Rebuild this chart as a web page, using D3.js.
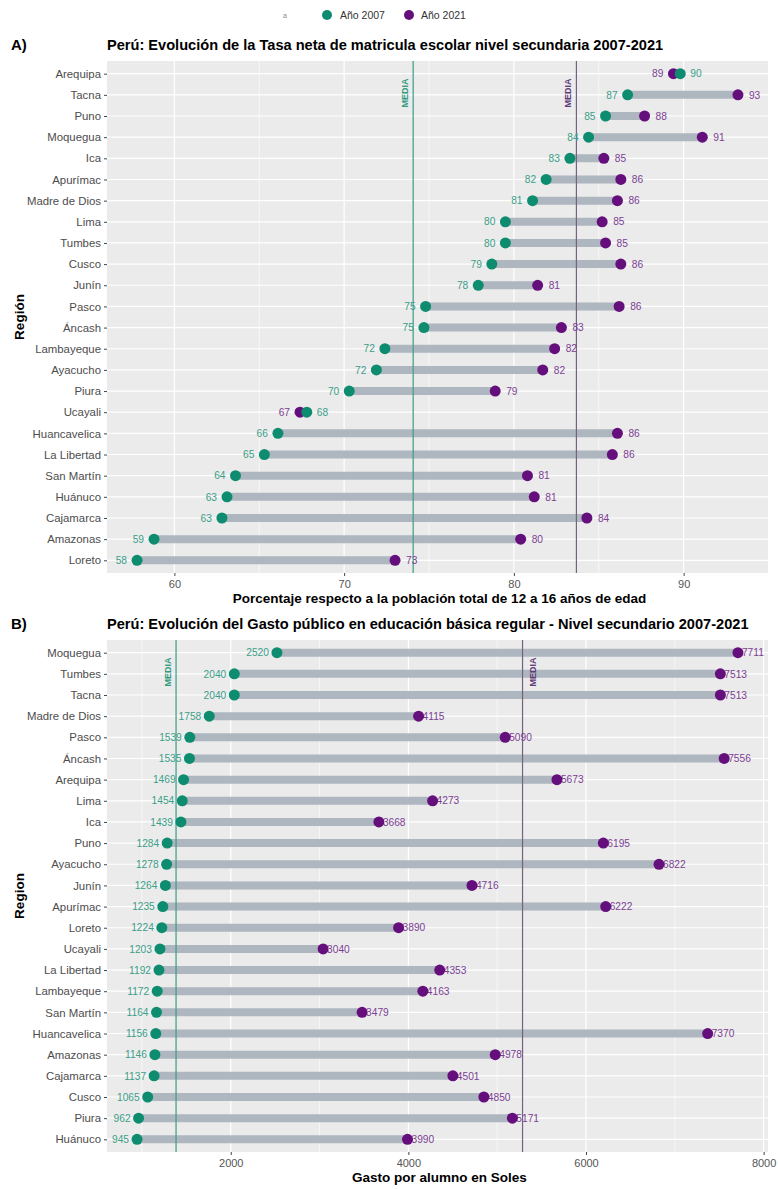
<!DOCTYPE html>
<html>
<head>
<meta charset="utf-8">
<script src="https://cdn.jsdelivr.net/npm/d3@7"></script>
<style>
	body { margin: 0; background: #fff; }
	svg { font-family: 'Liberation Sans', Arial, sans-serif; display: block; }
</style>
</head>
<body>
<svg id="chart" width="778" height="1189"></svg>
<script>
// Panel A: tasa neta de matricula secundaria (%)
const regionsA = ['Arequipa', 'Tacna', 'Puno', 'Moquegua', 'Ica', 'Apurímac', 'Madre de Dios', 'Lima', 'Tumbes', 'Cusco', 'Junín', 'Pasco', 'Áncash', 'Lambayeque', 'Ayacucho', 'Piura', 'Ucayali', 'Huancavelica', 'La Libertad', 'San Martín', 'Huánuco', 'Cajamarca', 'Amazonas', 'Loreto']
const tasa2007 = [89.8, 86.7, 85.4, 84.4, 83.3, 81.9, 81.1, 79.5, 79.5, 78.7, 77.9, 74.8, 74.7, 72.4, 71.9, 70.3, 67.8, 66.1, 65.3, 63.6, 63.1, 62.8, 58.8, 57.8]
const tasa2021 = [89.4, 93.2, 87.7, 91.1, 85.3, 86.3, 86.1, 85.2, 85.4, 86.3, 81.4, 86.2, 82.8, 82.4, 81.7, 78.9, 67.4, 86.1, 85.8, 80.8, 81.2, 84.3, 80.4, 73.0]
const ticksA = [60, 70, 80, 90]

// Panel B: gasto publico por alumno (Soles)
const regionsB = ['Moquegua', 'Tumbes', 'Tacna', 'Madre de Dios', 'Pasco', 'Áncash', 'Arequipa', 'Lima', 'Ica', 'Puno', 'Ayacucho', 'Junín', 'Apurímac', 'Loreto', 'Ucayali', 'La Libertad', 'Lambayeque', 'San Martín', 'Huancavelica', 'Amazonas', 'Cajamarca', 'Cusco', 'Piura', 'Huánuco']
const gasto2007 = [2520, 2040, 2040, 1758, 1539, 1535, 1469, 1454, 1439, 1284, 1278, 1264, 1235, 1224, 1203, 1192, 1172, 1164, 1156, 1146, 1137, 1065, 962, 945]
const gasto2021 = [7711, 7513, 7513, 4115, 5090, 7556, 5673, 4273, 3668, 6195, 6822, 4716, 6222, 3890, 3040, 4353, 4163, 3479, 7370, 4978, 4501, 4850, 5171, 3990]
const ticksB = [2000, 4000, 6000, 8000]

const green = '#0e8c70'
const purple = '#650f7d'
const greenText = '#3a9e88'
const purpleText = '#7b3e93'
const segColor = '#aeb6bf'

const svg = d3.select('#chart')

// legend
const legend = svg.append('g').attr('transform', 'translate(0, 15)')
legend.append('text').attr('x', 283).attr('y', 3).attr('font-size', 7).attr('fill', '#888').text('a')
legend.append('circle').attr('cx', 327).attr('cy', 0).attr('r', 5).attr('fill', green)
legend.append('text').attr('x', 340).attr('y', 4).attr('font-size', 10.5).attr('fill', '#333').text('Año 2007')
legend.append('circle').attr('cx', 409).attr('cy', 0).attr('r', 5).attr('fill', purple)
legend.append('text').attr('x', 421).attr('y', 4).attr('font-size', 10.5).attr('fill', '#333').text('Año 2021')

function drawPanel(opts) {
	const { top, bottom, left, right, regions, v1, v2, ticks, minor, tag, title, xTitle, yTitle, mode } = opts

	const all = v1.concat(v2)
	const ext = d3.extent(all)
	const pad = (ext[1] - ext[0]) * 0.05
	const x = d3.scaleLinear().domain([ext[0] - pad, ext[1] + pad]).range([left, right])
	const y = d3.scalePoint().domain(regions).range([top, bottom]).padding(0.6)

	const g = svg.append('g')

	// background + grid
	g.append('rect').attr('x', left).attr('y', top).attr('width', right - left).attr('height', bottom - top).attr('fill', '#ebebeb')
	g.selectAll('.minor').data(minor.filter(d => x(d) >= left && x(d) <= right)).enter().append('line')
		.attr('x1', d => x(d)).attr('x2', d => x(d)).attr('y1', top).attr('y2', bottom)
		.attr('stroke', '#fff').attr('stroke-width', 0.6)
	g.selectAll('.major').data(ticks).enter().append('line')
		.attr('x1', d => x(d)).attr('x2', d => x(d)).attr('y1', top).attr('y2', bottom)
		.attr('stroke', '#fff').attr('stroke-width', 1.2)
	g.selectAll('.hgrid').data(regions).enter().append('line')
		.attr('x1', left).attr('x2', right).attr('y1', d => y(d)).attr('y2', d => y(d))
		.attr('stroke', '#fff').attr('stroke-width', 1.2)

	// segments
	g.selectAll('.seg').data(regions).enter().append('line')
		.attr('x1', (d, i) => x(v1[i])).attr('x2', (d, i) => x(v2[i]))
		.attr('y1', d => y(d)).attr('y2', d => y(d))
		.attr('stroke', segColor).attr('stroke-width', 8)

	// mean lines
	const m1 = d3.mean(v1)
	const m2 = d3.mean(v2)
	g.append('line').attr('x1', x(m1)).attr('x2', x(m1)).attr('y1', top).attr('y2', bottom)
		.attr('stroke', '#3c9c86').attr('stroke-width', 1.2)
	g.append('line').attr('x1', x(m2)).attr('x2', x(m2)).attr('y1', top).attr('y2', bottom)
		.attr('stroke', '#74637f').attr('stroke-width', 1.2)
	const mediaY = top + 32
	g.append('text').attr('transform', `translate(${x(m1) - 5}, ${mediaY}) rotate(-90)`)
		.attr('text-anchor', 'middle').attr('font-size', 9).attr('font-weight', 'bold')
		.attr('fill', '#2f9a80').text('MEDIA')
	const purpleMediaX = mode === 'A' ? x(m2) - 5 : x(m2) + 13
	g.append('text').attr('transform', `translate(${purpleMediaX}, ${mediaY}) rotate(-90)`)
		.attr('text-anchor', 'middle').attr('font-size', 9).attr('font-weight', 'bold')
		.attr('fill', '#5e3a78').text('MEDIA')

	// value labels
	const labels = g.append('g').attr('font-size', 10.2)
	regions.forEach((r, i) => {
		const a = v1[i]
		const b = v2[i]
		const fmt = v => Math.round(v)
		if (mode === 'A') {
			const aLeft = a <= b
			labels.append('text')
				.attr('x', aLeft ? x(a) - 10 : x(a) + 10)
				.attr('y', y(r) + 3.7)
				.attr('text-anchor', aLeft ? 'end' : 'start')
				.attr('fill', greenText).text(fmt(a))
			labels.append('text')
				.attr('x', aLeft ? x(b) + 11 : x(b) - 10)
				.attr('y', y(r) + 3.7)
				.attr('text-anchor', aLeft ? 'start' : 'end')
				.attr('fill', purpleText).text(fmt(b))
		} else {
			labels.append('text')
				.attr('x', x(a) - 8).attr('y', y(r) + 3.7)
				.attr('text-anchor', 'end')
				.attr('fill', greenText).text(fmt(a))
			labels.append('text')
				.attr('x', x(b) + 4).attr('y', y(r) + 3.7)
				.attr('text-anchor', 'start')
				.attr('fill', purpleText).text(fmt(b))
		}
	})

	// dots
	g.selectAll('.d2').data(regions).enter().append('circle')
		.attr('cx', (d, i) => x(v2[i])).attr('cy', d => y(d)).attr('r', 5.5).attr('fill', purple)
	g.selectAll('.d1').data(regions).enter().append('circle')
		.attr('cx', (d, i) => x(v1[i])).attr('cy', d => y(d)).attr('r', 5.5).attr('fill', green)

	// axes
	const xAxisG = g.append('g').attr('transform', `translate(0, ${bottom})`)
		.call(d3.axisBottom(x).tickValues(ticks).tickSize(3).tickPadding(4).tickFormat(d3.format('d')))
	xAxisG.select('.domain').remove()
	xAxisG.selectAll('line').attr('stroke', '#444')
	xAxisG.selectAll('text').attr('font-size', 11).attr('fill', '#555').attr('font-family', null)

	const yAxisG = g.append('g').attr('transform', `translate(${left}, 0)`)
		.call(d3.axisLeft(y).tickSize(3).tickPadding(3))
	yAxisG.select('.domain').remove()
	yAxisG.selectAll('line').attr('stroke', '#444')
	yAxisG.selectAll('text').attr('font-size', 11.4).attr('fill', '#4d4d4d').attr('font-family', null)

	// titles
	svg.append('text').attr('x', 11).attr('y', top - 11).attr('font-size', 15).attr('font-weight', 'bold').text(tag)
	svg.append('text').attr('x', left).attr('y', top - 11).attr('font-size', 14.6).attr('font-weight', 'bold').text(title)
	svg.append('text').attr('x', (left + right) / 2 + 2).attr('y', bottom + 30).attr('text-anchor', 'middle')
		.attr('font-size', 13.5).attr('font-weight', 'bold').text(xTitle)
	svg.append('text').attr('transform', `translate(24, ${(top + bottom) / 2}) rotate(-90)`)
		.attr('text-anchor', 'middle').attr('font-size', 13.5).attr('font-weight', 'bold').text(yTitle)
}

drawPanel({
	top: 61, bottom: 573, left: 107, right: 768,
	regions: regionsA, v1: tasa2007, v2: tasa2021,
	ticks: ticksA, minor: [55, 65, 75, 85, 95],
	tag: 'A)',
	title: 'Perú: Evolución de la Tasa neta de matricula escolar nivel secundaria 2007-2021',
	xTitle: 'Porcentaje respecto a la población total de 12 a 16 años de edad',
	yTitle: 'Región',
	mode: 'A'
})

drawPanel({
	top: 640, bottom: 1152, left: 107, right: 768,
	regions: regionsB, v1: gasto2007, v2: gasto2021,
	ticks: ticksB, minor: [1000, 3000, 5000, 7000],
	tag: 'B)',
	title: 'Perú: Evolución del Gasto público en educación básica regular - Nivel secundario 2007-2021',
	xTitle: 'Gasto por alumno en Soles',
	yTitle: 'Region',
	mode: 'B'
})
</script>
</body>
</html>
